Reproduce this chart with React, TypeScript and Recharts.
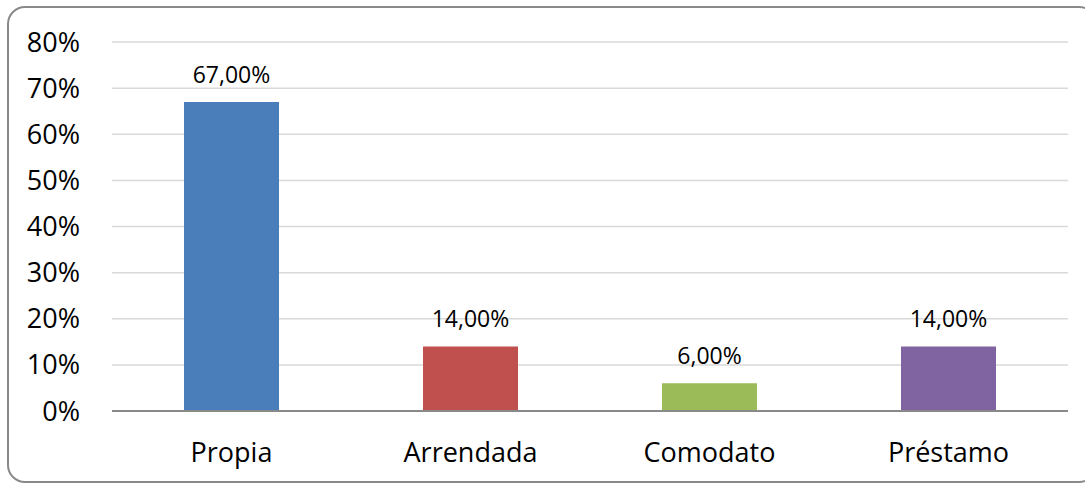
import { BarChart, Bar, XAxis, YAxis, CartesianGrid, Cell, LabelList } from 'recharts';

const categories = ['Propia', 'Arrendada', 'Comodato', 'Préstamo'];
const values = [67, 14, 6, 14];
const colors = ['#4A7EBB', '#C0504D', '#9BBB59', '#8064A2'];
const yTicks = [0, 10, 20, 30, 40, 50, 60, 70, 80];

const rows = categories.map((name, i) => ({ name, value: values[i] }));

const font = "'Open Sans', 'Liberation Sans', sans-serif";

export default function App() {
  return (
    <div style={{ position: 'absolute', left: 0, top: 0, width: 1085, height: 487, overflow: 'hidden', background: '#fff' }}>
      <div style={{
        position: 'absolute', left: 7, top: 6, width: 1090, height: 477,
        border: '2px solid #898989', borderRadius: 18, boxSizing: 'border-box',
      }} />
      <BarChart width={1085} height={487} data={rows} margin={{ top: 42, right: 17, left: 0, bottom: 0 }}>
        <CartesianGrid stroke="#D9D9D9" strokeWidth={1.5} vertical={false} />
        <XAxis dataKey="name" height={76} tickLine={false} tickSize={0} tickMargin={32}
          axisLine={{ stroke: '#898989', strokeWidth: 2 }}
          tick={{ fill: '#000', fontSize: 27, fontFamily: font }} />
        <YAxis domain={[0, 80]} ticks={yTicks} width={112} axisLine={false} tickLine={false} tickSize={0} tickMargin={32}
          tickFormatter={(v: number) => `${v}%`}
          tick={{ fill: '#000', fontSize: 27, fontFamily: font }} />
        <Bar dataKey="value" barSize={95} isAnimationActive={false}>
          {rows.map((r, i) => <Cell key={r.name} fill={colors[i]} />)}
          <LabelList dataKey="value" position="top" offset={19}
            formatter={(v: number) => `${v.toFixed(2).replace('.', ',')}%`}
            style={{ fill: '#000', fontSize: 23, fontFamily: font }} />
        </Bar>
      </BarChart>
    </div>
  );
}
